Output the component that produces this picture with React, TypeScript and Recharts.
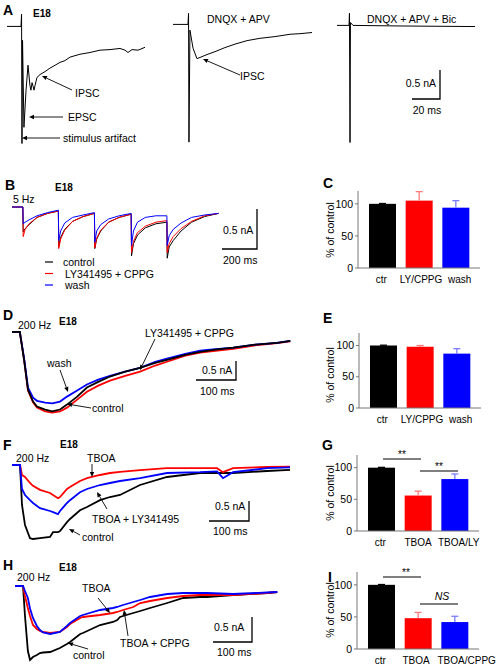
import React from 'react';
import { LineChart, Line, XAxis, YAxis, BarChart, Bar, Cell } from 'recharts';

const FONT = '"Liberation Sans", Arial, Helvetica, sans-serif';
const BLK = '#000000';
const RED = '#ff0000';
const BLU = '#0000ff';
const AXIS = '#777777';

// ---- panel A: single sweeps (ms, nA)
const aControlTime = [0, 10, 10.4, 10.7, 11.1, 12.1, 13.6, 15, 16.4, 17.1, 17.9, 18.6, 19.3, 20, 21.4, 23.6, 27.1, 30.7, 34.3, 37.9, 41.4, 45, 52.1, 59.3, 66.4, 73.6, 80.7, 84.3, 86.4, 89.3, 93.6, 98.6];
const aControlCurrent = [0, 0, 0.21, -2.02, -0.24, -1.74, -1.1, -0.67, -1.02, -1.1, -0.97, -1.03, -1.1, -1.02, -0.88, -0.83, -0.78, -0.72, -0.67, -0.62, -0.59, -0.53, -0.48, -0.45, -0.41, -0.4, -0.38, -0.41, -0.45, -0.4, -0.41, -0.36];
const aDnqxTime = [0, 10.7, 11.1, 11.4, 12.1, 14.3, 17.1, 19.3, 24.3, 30, 37.1, 44.3, 52.9, 62.1, 72.9, 83.6, 90.7, 99.3];
const aDnqxCurrent = [0, 0, 0.19, -2.03, -0.1, -0.41, -0.59, -0.57, -0.52, -0.47, -0.4, -0.34, -0.28, -0.24, -0.21, -0.17, -0.16, -0.14];
const aBicTime = [0, 8.6, 8.9, 9.3, 9.6, 11.4, 45, 98.6];
const aBicCurrent = [0, 0, 0.21, -2.02, 0.05, 0, -0.01, -0.02];

// ---- panel B: 5 Hz train (ms, nA)
const bTime = [0, 62, 64, 75, 98, 143, 203, 265, 267, 278, 301, 346, 406, 471, 473, 484, 507, 552, 612, 681, 683, 694, 717, 762, 822, 885, 887, 898, 921, 966, 1026, 1100, 1180];
const bControl = [0, 0, -0.31, -0.27, -0.22, -0.13, -0.08, -0.05, -0.49, -0.38, -0.28, -0.18, -0.12, -0.08, -0.52, -0.4, -0.3, -0.19, -0.13, -0.09, -0.61, -0.46, -0.35, -0.26, -0.21, -0.19, -0.64, -0.5, -0.42, -0.3, -0.19, -0.12, -0.08];
const bLyCppg = [0, 0, -0.37, -0.28, -0.21, -0.13, -0.08, -0.05, -0.52, -0.4, -0.29, -0.18, -0.12, -0.08, -0.51, -0.39, -0.29, -0.19, -0.13, -0.09, -0.57, -0.43, -0.32, -0.24, -0.19, -0.17, -0.57, -0.46, -0.37, -0.27, -0.18, -0.11, -0.08];
const bWash = [0, 0, -0.21, -0.19, -0.16, -0.11, -0.07, -0.04, -0.42, -0.3, -0.2, -0.13, -0.1, -0.07, -0.44, -0.3, -0.22, -0.15, -0.11, -0.08, -0.48, -0.3, -0.19, -0.13, -0.11, -0.11, -0.48, -0.36, -0.28, -0.2, -0.13, -0.1, -0.08];

// ---- panel D: 200 Hz, LY/CPPG
const dTime = [0, 20, 31, 41, 54, 64, 85, 103, 123, 141, 167, 192, 221, 251, 290, 328, 367, 397, 444, 482, 521, 567, 623, 679, 713];
const dControl = [0, 0, -0.74, -1.53, -1.84, -1.97, -2.05, -2.1, -2.05, -1.92, -1.71, -1.47, -1.32, -1.18, -1.05, -0.95, -0.82, -0.74, -0.61, -0.53, -0.47, -0.42, -0.34, -0.29, -0.24];
const dLyCppg = [0, 0, -0.74, -1.55, -1.86, -2.0, -2.1, -2.13, -2.1, -2.0, -1.79, -1.58, -1.42, -1.29, -1.16, -1.05, -0.89, -0.79, -0.63, -0.55, -0.5, -0.45, -0.36, -0.3, -0.25];
const dWash = [0, 0, -0.7, -1.47, -1.74, -1.82, -1.87, -1.89, -1.84, -1.71, -1.55, -1.39, -1.26, -1.16, -1.05, -0.95, -0.79, -0.71, -0.58, -0.5, -0.46, -0.42, -0.34, -0.29, -0.24];

// ---- panel F: TBOA, TBOA + LY341495
const fTime = [0, 20, 25, 32.5, 45, 52.5, 70, 95, 102.5, 115, 120, 137.5, 145, 170, 187.5, 220, 245, 270, 320, 387.5, 470, 512.5, 527.5, 552.5, 637.5, 695];
const fControl = [0, 0, -1.0, -1.5, -1.83, -1.85, -1.83, -1.8, -1.68, -1.68, -1.65, -1.43, -1.35, -1.13, -1.05, -0.88, -0.8, -0.75, -0.5, -0.3, -0.2, -0.2, -0.2, -0.2, -0.15, -0.12];
const fTboa = [0, 0, -0.25, -0.3, -0.45, -0.52, -0.62, -0.7, -0.75, -0.83, -0.8, -0.6, -0.55, -0.4, -0.33, -0.25, -0.2, -0.17, -0.13, -0.08, -0.08, -0.08, -0.18, -0.08, -0.05, -0.04];
const fTboaLy = [0, 0, -0.6, -0.75, -0.88, -0.95, -1.08, -1.15, -1.18, -1.23, -1.15, -0.95, -0.88, -0.68, -0.6, -0.5, -0.45, -0.4, -0.33, -0.2, -0.18, -0.16, -0.33, -0.18, -0.08, -0.06];

// ---- panel H: TBOA, TBOA + CPPG
const hTime = [0, 20.5, 25.6, 33, 38.5, 46, 56, 64, 72, 90, 115, 133, 141, 167, 174, 218, 251, 262, 269, 277, 303, 321, 346, 390, 431, 474, 492, 559, 646, 672];
const hControl = [0, 0, -0.6, -1.3, -1.48, -1.42, -1.38, -1.34, -1.33, -1.32, -1.24, -1.16, -1.12, -0.96, -0.94, -0.78, -0.72, -0.68, -0.62, -0.6, -0.54, -0.5, -0.44, -0.34, -0.24, -0.22, -0.22, -0.18, -0.14, -0.12];
const hTboa = [0, 0, -0.2, -0.44, -0.6, -0.78, -0.86, -0.9, -0.92, -0.94, -0.92, -0.82, -0.76, -0.64, -0.62, -0.58, -0.54, -0.52, -0.5, -0.48, -0.42, -0.34, -0.3, -0.24, -0.2, -0.18, -0.18, -0.18, -0.14, -0.12];
const hTboaCppg = [0, 0, -0.1, -0.24, -0.45, -0.64, -0.8, -0.88, -0.93, -0.96, -0.92, -0.8, -0.74, -0.6, -0.58, -0.48, -0.44, -0.42, -0.4, -0.38, -0.32, -0.28, -0.22, -0.16, -0.14, -0.14, -0.14, -0.16, -0.13, -0.12];

// ---- bar panels (% of control, mean and SEM)
const cLabels = ['ctr', 'LY/CPPG', 'wash'];
const cValues = [100, 105, 94];
const cErrors = [0.5, 14, 11];
const eLabels = ['ctr', 'LY/CPPG', 'wash'];
const eValues = [100, 98, 87];
const eErrors = [0.5, 2, 8];
const gLabels = ['ctr', 'TBOA', 'TBOA/LY'];
const gValues = [100, 56, 82];
const gErrors = [0.5, 7, 8];
const iLabels = ['ctr', 'TBOA', 'TBOA/CPPG'];
const iValues = [100, 48, 42];
const iErrors = [0.5, 9, 9];

const barFills = [BLK, RED, BLU];
const errColors = [BLK, '#ff7a7a', '#7a7aff'];

type Series = { key: string; values: number[]; color: string };

function zipRows(time: number[], series: Series[]) {
  return time.map((t, i) => {
    const row: Record<string, number> = { t };
    series.forEach((s) => { row[s.key] = s.values[i]; });
    return row;
  });
}

function Trace(props: {
  left: number; top: number; width: number; height: number;
  xMax: number; yMin: number; yMax: number;
  time: number[]; series: Series[]; strokeWidth: number;
}) {
  const { left, top, width, height, xMax, yMin, yMax, time, series, strokeWidth } = props;
  const rows = zipRows(time, series);
  return (
    <div style={{ position: 'absolute', left, top }}>
      <LineChart width={width} height={height} data={rows} margin={{ top: 0, right: 0, bottom: 0, left: 0 }}>
        <XAxis type="number" dataKey="t" domain={[0, xMax]} allowDataOverflow hide />
        <YAxis type="number" domain={[yMin, yMax]} allowDataOverflow hide />
        {series.map((s) => (
          <Line
            key={s.key}
            dataKey={s.key}
            type="linear"
            stroke={s.color}
            strokeWidth={strokeWidth}
            dot={false}
            isAnimationActive={false}
          />
        ))}
      </LineChart>
    </div>
  );
}

const BarWithError = (p: any) => {
  const { x, y, width, height, payload, index } = p;
  const perUnit = payload.value ? height / payload.value : 0;
  const top = y - payload.err * perUnit;
  const cx = x + width / 2;
  return (
    <g>
      <rect x={x} y={y} width={width} height={height} fill={barFills[index]} />
      <line x1={cx} y1={y} x2={cx} y2={top} stroke={errColors[index]} strokeWidth={1.3} />
      <line x1={cx - 3.5} y1={top} x2={cx + 3.5} y2={top} stroke={errColors[index]} strokeWidth={1.3} />
    </g>
  );
};

// category tick, nudged sideways where the original set its labels off-centre
const makeTick = (shifts: number[]) => (p: any) => (
  <text
    x={p.x + (shifts[p.index] ?? 0)}
    y={p.y}
    dy="0.71em"
    textAnchor="middle"
    fontSize={10}
    fontFamily={FONT}
    fill="#000"
  >
    {p.payload.value}
  </text>
);

function BarPanel(props: {
  left: number; top: number; plotH: number;
  labels: string[]; values: number[]; errors: number[]; shifts: number[];
}) {
  const { left, top, plotH, labels, values, errors, shifts } = props;
  const rows = labels.map((name, i) => ({ name, value: values[i], err: errors[i] }));
  const tick = { fontSize: 10.5, fill: '#000', fontFamily: FONT };
  return (
    <div style={{ position: 'absolute', left, top }}>
      <BarChart width={190} height={plotH + 23} data={rows} margin={{ top: 6, right: 20, bottom: 0, left: 0 }}>
        <XAxis
          dataKey="name"
          tickLine={false}
          axisLine={{ stroke: AXIS }}
          tick={makeTick(shifts)}
          interval={0}
          height={17}
          padding={{ left: 6, right: 6 }}
        />
        <YAxis
          type="number"
          domain={[0, 120]}
          ticks={[0, 50, 100]}
          allowDataOverflow
          width={48}
          tickSize={3}
          tickMargin={2}
          tickLine={{ stroke: AXIS }}
          axisLine={{ stroke: AXIS }}
          tick={tick}
        />
        <Bar dataKey="value" barSize={27} shape={BarWithError} isAnimationActive={false}>
          {rows.map((r, i) => <Cell key={r.name} fill={barFills[i]} />)}
        </Bar>
      </BarChart>
    </div>
  );
}

const T = (p: { x: number; y: number; s?: number; b?: boolean; it?: boolean; a?: 'start' | 'middle' | 'end'; children: React.ReactNode }) => (
  <text
    x={p.x}
    y={p.y}
    fontSize={p.s ?? 10.5}
    fontWeight={p.b ? 'bold' : 'normal'}
    fontStyle={p.it ? 'italic' : 'normal'}
    textAnchor={p.a ?? 'start'}
    fontFamily={FONT}
    fill="#000"
  >
    {p.children}
  </text>
);

function Arrow({ x1, y1, x2, y2 }: { x1: number; y1: number; x2: number; y2: number }) {
  const ang = Math.atan2(y2 - y1, x2 - x1);
  const L = 5;
  const W = 2.2;
  const bx = x2 - L * Math.cos(ang);
  const by = y2 - L * Math.sin(ang);
  const px = -Math.sin(ang) * W;
  const py = Math.cos(ang) * W;
  return (
    <g>
      <line x1={x1} y1={y1} x2={bx} y2={by} stroke="#000" strokeWidth={0.9} />
      <polygon points={`${x2},${y2} ${bx + px},${by + py} ${bx - px},${by - py}`} fill="#000" />
    </g>
  );
}

function ScaleBar({ x, yTop, yBot, xLeft }: { x: number; yTop: number; yBot: number; xLeft: number }) {
  return (
    <path d={`M${x},${yTop} L${x},${yBot} L${xLeft},${yBot}`} fill="none" stroke="#000" strokeWidth={1.3} />
  );
}

function YLabel({ cx, cy }: { cx: number; cy: number }) {
  return (
    <text
      x={cx}
      y={cy}
      transform={`rotate(-90 ${cx} ${cy})`}
      textAnchor="middle"
      dominantBaseline="central"
      fontSize={10.5}
      fontFamily={FONT}
      fill="#000"
    >
      % of control
    </text>
  );
}

export default function App() {
  return (
    <div style={{ position: 'absolute', left: 0, top: 0, width: 500, height: 671, background: '#fff', overflow: 'hidden', fontFamily: FONT }}>
      {/* A */}
      <Trace left={7} top={8.6} width={140} height={145} xMax={100} yMin={-2.2} yMax={0.3} time={aControlTime}
        series={[{ key: 'i', values: aControlCurrent, color: BLK }]} strokeWidth={1} />
      <Trace left={173} top={6.6} width={140} height={145} xMax={100} yMin={-2.2} yMax={0.3} time={aDnqxTime}
        series={[{ key: 'i', values: aDnqxCurrent, color: BLK }]} strokeWidth={1} />
      <Trace left={337} top={7.6} width={140} height={145} xMax={100} yMin={-2.2} yMax={0.3} time={aBicTime}
        series={[{ key: 'i', values: aBicCurrent, color: BLK }]} strokeWidth={1} />

      {/* B */}
      <Trace left={11.7} top={198.5} width={210} height={72} xMax={1200} yMin={-0.8} yMax={0.1} time={bTime}
        series={[
          { key: 'control', values: bControl, color: BLK },
          { key: 'ly', values: bLyCppg, color: RED },
          { key: 'wash', values: bWash, color: BLU },
        ]} strokeWidth={1} />

      {/* D */}
      <Trace left={12} top={328.2} width={281} height={91} xMax={720} yMin={-2.3} yMax={0.1} time={dTime}
        series={[
          { key: 'ly', values: dLyCppg, color: RED },
          { key: 'wash', values: dWash, color: BLU },
          { key: 'control', values: dControl, color: BLK },
        ]} strokeWidth={1.8} />

      {/* F */}
      <Trace left={12} top={461} width={288} height={84} xMax={720} yMin={-2} yMax={0.1} time={fTime}
        series={[
          { key: 'control', values: fControl, color: BLK },
          { key: 'tboa', values: fTboa, color: RED },
          { key: 'tboaLy', values: fTboaLy, color: BLU },
        ]} strokeWidth={1.8} />

      {/* H */}
      <Trace left={15} top={581} width={281} height={90} xMax={720} yMin={-1.7} yMax={0.1} time={hTime}
        series={[
          { key: 'control', values: hControl, color: BLK },
          { key: 'tboa', values: hTboa, color: RED },
          { key: 'tboaCppg', values: hTboaCppg, color: BLU },
        ]} strokeWidth={1.8} />

      {/* bar panels */}
      <BarPanel left={310} top={185} plotH={77} labels={cLabels} values={cValues} errors={cErrors} shifts={[-1, 2, 4]} />
      <BarPanel left={311} top={327} plotH={75} labels={eLabels} values={eValues} errors={eErrors} shifts={[-1, 2, 4]} />
      <BarPanel left={309} top={449} plotH={76} labels={gLabels} values={gValues} errors={gErrors} shifts={[-1, 0, 4]} />
      <BarPanel left={309} top={566} plotH={77} labels={iLabels} values={iValues} errors={iErrors} shifts={[-1, -2, 12]} />

      {/* annotations */}
      <svg width={500} height={671} style={{ position: 'absolute', left: 0, top: 0, pointerEvents: 'none' }}>
        {/* A */}
        <T x={3} y={15} s={14} b>A</T>
        <T x={33} y={16.5} s={10} b>E18</T>
        <T x={207} y={22.5}>DNQX + APV</T>
        <T x={367} y={22.5}>DNQX + APV + Bic</T>
        <T x={75} y={97}>IPSC</T>
        <T x={68} y={121}>EPSC</T>
        <T x={63} y={142}>stimulus artifact</T>
        <T x={240} y={80}>IPSC</T>
        <Arrow x1={72} y1={90} x2={42} y2={76} />
        <Arrow x1={63} y1={117} x2={29} y2={117} />
        <Arrow x1={60} y1={138} x2={22} y2={138} />
        <Arrow x1={240} y1={75} x2={203} y2={59} />
        <ScaleBar x={440} yTop={70} yBot={99} xLeft={412} />
        <T x={436} y={87} a="end">0.5 nA</T>
        <T x={427} y={114} a="middle">20 ms</T>

        {/* B */}
        <T x={5} y={190} s={14} b>B</T>
        <T x={55} y={191} s={10} b>E18</T>
        <T x={13} y={203}>5 Hz</T>
        <line x1={45} y1={262} x2={53} y2={262} stroke={BLK} strokeWidth={1.2} />
        <line x1={45} y1={273.5} x2={53} y2={273.5} stroke={RED} strokeWidth={1.2} />
        <line x1={45} y1={285} x2={53} y2={285} stroke={BLU} strokeWidth={1.2} />
        <T x={63} y={265.5}>control</T>
        <T x={65} y={277.5}>LY341495 + CPPG</T>
        <T x={65} y={289}>wash</T>
        <ScaleBar x={257} yTop={209} yBot={249} xLeft={222} />
        <T x={223} y={234}>0.5 nA</T>
        <T x={223} y={264}>200 ms</T>

        {/* C */}
        <T x={323} y={188} s={14} b>C</T>
        <YLabel cx={330} cy={230} />

        {/* D */}
        <T x={3} y={320} s={14} b>D</T>
        <T x={18} y={329}>200 Hz</T>
        <T x={59} y={325} s={10} b>E18</T>
        <T x={47} y={367}>wash</T>
        <T x={92} y={412}>control</T>
        <T x={145} y={337}>LY341495 + CPPG</T>
        <Arrow x1={60} y1={370} x2={68} y2={392} />
        <Arrow x1={91} y1={408} x2={67} y2={404} />
        <Arrow x1={155} y1={339} x2={140} y2={370} />
        <ScaleBar x={236} yTop={361} yBot={380} xLeft={196} />
        <T x={202} y={374}>0.5 nA</T>
        <T x={200} y={395}>100 ms</T>

        {/* E */}
        <T x={323} y={323} s={14} b>E</T>
        <YLabel cx={330} cy={375} />

        {/* F */}
        <T x={3} y={450} s={14} b>F</T>
        <T x={60} y={447.5} s={10} b>E18</T>
        <T x={16} y={462}>200 Hz</T>
        <T x={87} y={462}>TBOA</T>
        <T x={92} y={523}>TBOA + LY341495</T>
        <T x={82} y={541}>control</T>
        <Arrow x1={92} y1={464} x2={92} y2={477} />
        <Arrow x1={107} y1={509} x2={97} y2={492} />
        <Arrow x1={80} y1={535} x2={69} y2={529} />
        <ScaleBar x={249} yTop={501} yBot={521} xLeft={209} />
        <T x={215} y={510}>0.5 nA</T>
        <T x={213} y={535}>100 ms</T>

        {/* G */}
        <T x={322} y={450} s={14} b>G</T>
        <YLabel cx={330} cy={493} />
        <line x1={383} y1={459} x2={421} y2={459} stroke="#000" strokeWidth={1.2} />
        <line x1={420} y1={471} x2={458} y2={471} stroke="#000" strokeWidth={1.2} />
        <T x={402} y={458} s={10} a="middle">**</T>
        <T x={439} y={470} s={10} a="middle">**</T>

        {/* H */}
        <T x={3} y={570} s={14} b>H</T>
        <T x={17} y={581}>200 Hz</T>
        <T x={59} y={571} s={10} b>E18</T>
        <T x={82} y={592}>TBOA</T>
        <T x={120} y={647}>TBOA + CPPG</T>
        <T x={73} y={659}>control</T>
        <Arrow x1={98} y1={598} x2={110} y2={613} />
        <Arrow x1={128} y1={636} x2={124} y2={610} />
        <Arrow x1={88} y1={649} x2={68} y2={643} />
        <ScaleBar x={252} yTop={617} yBot={642} xLeft={213} />
        <T x={214} y={631}>0.5 nA</T>
        <T x={217} y={656}>100 ms</T>

        {/* I */}
        <T x={328} y={582} s={14} b>I</T>
        <YLabel cx={330} cy={610} />
        <line x1={383} y1={577} x2={421} y2={577} stroke="#000" strokeWidth={1.2} />
        <line x1={420} y1={604} x2={458} y2={604} stroke="#000" strokeWidth={1.2} />
        <T x={406} y={576} s={10} a="middle">**</T>
        <T x={442} y={600} it a="middle">NS</T>
      </svg>
    </div>
  );
}
